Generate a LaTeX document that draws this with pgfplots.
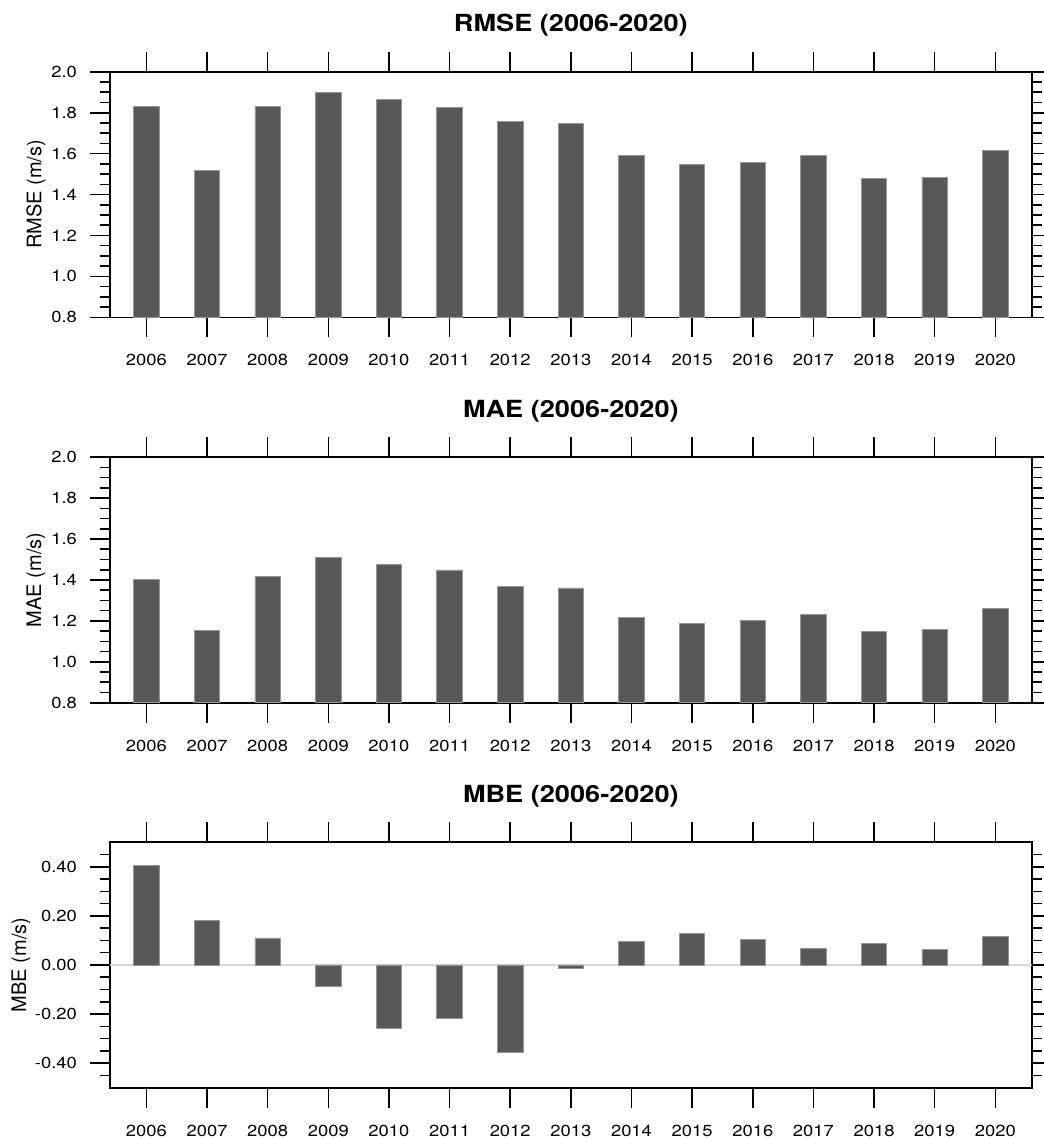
\documentclass[border=0pt]{standalone}
\usepackage{pgfplots}
\usepackage{pgfplotstable}
\pgfplotsset{compat=1.18}
\usepackage{fontspec}
\setmainfont[FakeStretch=1.15]{TeX Gyre Heros}
\newfontfamily\labelfont{TeX Gyre Heros}

\definecolor{barfill}{RGB}{88,88,88}
\definecolor{baredge}{RGB}{150,150,150}
\definecolor{zeroline}{RGB}{215,215,215}

% yearly error statistics of wind speed (m/s)
\pgfplotstableread{
idx year rmse  mae   mbe
0  2006 1.832 1.403  0.406
1  2007 1.520 1.155  0.180
2  2008 1.831 1.418  0.110
3  2009 1.901 1.512 -0.087
4  2010 1.866 1.477 -0.257
5  2011 1.827 1.449 -0.219
6  2012 1.756 1.367 -0.358
7  2013 1.748 1.361 -0.015
8  2014 1.589 1.216  0.095
9  2015 1.547 1.189  0.128
10 2016 1.557 1.202  0.103
11 2017 1.589 1.231  0.069
12 2018 1.477 1.148  0.088
13 2019 1.485 1.158  0.064
14 2020 1.617 1.259  0.117
}\errtable

\pgfplotsset{
  panel/.style={
    scale only axis,
    width=460.85pt, height=122.75pt,
    anchor=south west,
    xmin=-0.6, xmax=14.6,
    xtick={0,...,14},
    xticklabels={2006,2007,2008,2009,2010,2011,2012,2013,2014,2015,2016,2017,2018,2019,2020},
    tick align=outside,
    major tick length=10pt,
    minor tick length=5pt,
    every tick/.style={black, line width=0.8pt},
    axis line style={black, line width=0.8pt},
    /pgf/number format/assume math mode=true,
    ticklabel style={font=\fontsize{8}{9}\selectfont},
    xticklabel style={yshift=-5pt},
    yticklabel style={xshift=-3pt},
    title style={at={(0.5,1)}, anchor=base, yshift=14pt,
                 font=\fontsize{11.8}{13}\selectfont\bfseries},
    ylabel style={at={(axis description cs:0,0.5)}, anchor=center,
                  font=\labelfont\fontsize{10}{11}\selectfont},
    ybar, bar width=0.42, bar shift=0pt,
  },
  errbar/.style={fill=barfill, draw=baredge, line width=0.4pt},
}

\begin{document}
\begin{tikzpicture}

% RMSE
\begin{axis}[panel, at={(55pt,-158.65pt)},
    title={RMSE (2006-2020)},
    ymin=0.8, ymax=2.0,
    ytick={0.8,1.0,1.2,1.4,1.6,1.8,2.0},
    yticklabels={0.8,1.0,1.2,1.4,1.6,1.8,2.0},
    minor ytick={0.85,0.9,0.95,1.05,1.1,1.15,1.25,1.3,1.35,1.45,1.5,1.55,1.65,1.7,1.75,1.85,1.9,1.95},
    ylabel={RMSE (m/s)}, ylabel style={yshift=37pt}]
  \addplot[errbar] table[x=idx, y=rmse] {\errtable};
\end{axis}

% MAE
\begin{axis}[panel, at={(55pt,-351.35pt)},
    title={MAE (2006-2020)},
    ymin=0.8, ymax=2.0,
    ytick={0.8,1.0,1.2,1.4,1.6,1.8,2.0},
    yticklabels={0.8,1.0,1.2,1.4,1.6,1.8,2.0},
    minor ytick={0.85,0.9,0.95,1.05,1.1,1.15,1.25,1.3,1.35,1.45,1.5,1.55,1.65,1.7,1.75,1.85,1.9,1.95},
    ylabel={MAE (m/s)}, ylabel style={yshift=37pt}]
  \addplot[errbar] table[x=idx, y=mae] {\errtable};
\end{axis}

% MBE
\begin{axis}[panel, at={(55pt,-543.85pt)},
    title={MBE (2006-2020)},
    ymin=-0.5, ymax=0.5,
    ytick={-0.4,-0.2,0,0.2,0.4},
    yticklabels={-0.40,-0.20,0.00,0.20,0.40},
    minor ytick={-0.45,-0.35,-0.3,-0.25,-0.15,-0.1,-0.05,0.05,0.1,0.15,0.25,0.3,0.35,0.45},
    ylabel={MBE (m/s)}, ylabel style={yshift=44.5pt}]
  \addplot[sharp plot, draw=zeroline, line width=0.6pt, forget plot] coordinates {(-0.6,0) (14.6,0)};
  \addplot[errbar] table[x=idx, y=mbe] {\errtable};
\end{axis}

\pgfresetboundingbox
\useasboundingbox (0,0) rectangle (521.5pt,-569.5pt);
\end{tikzpicture}
\end{document}
